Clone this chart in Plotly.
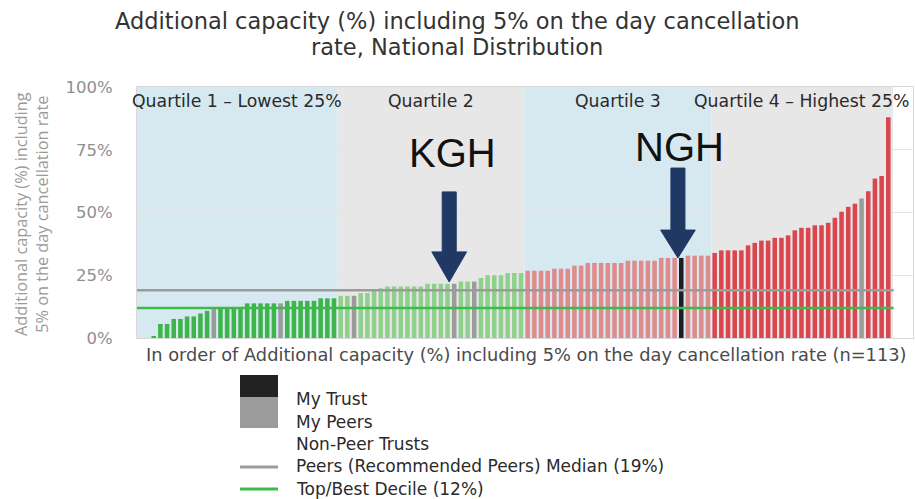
import plotly.graph_objects as go

# ---------------- data ----------------
chart_title_lines = ["Additional capacity (%) including 5% on the day cancellation",
                     "rate, National Distribution"]
x_title = "In order of Additional capacity (%) including 5% on the day cancellation rate (n=113)"
y_title = "Additional capacity (%) including<br>5% on the day cancellation rate"

values = [
    # Quartile 1
    0, 0, 0.8, 5.6, 5.6, 7.6, 7.6, 8.6, 8.6, 9.8, 10.8, 12.1, 12.1, 12.1, 12.1, 12.1,
    13.8, 13.8, 13.8, 13.8, 13.8, 13.8, 14.8, 14.8, 14.8, 14.8, 14.8, 15.8, 15.8, 15.8,
    # Quartile 2
    16.8, 16.8, 16.8, 17.9, 17.9, 18.9, 19.8, 20.5, 20.5, 20.5, 20.5, 20.5, 20.5,
    21.6, 21.6, 21.6, 21.6, 21.6, 22.5, 22.5, 22.5, 23.9, 25.0, 25.0, 25.0, 25.9, 25.9, 25.9,
    # Quartile 3
    26.8, 26.8, 26.8, 26.8, 27.6, 27.6, 27.6, 28.8, 28.8, 29.9, 29.9, 29.9, 29.9, 29.9, 29.9,
    30.8, 30.8, 30.8, 30.8, 30.8, 31.9, 31.9, 31.9, 31.9, 32.8, 32.8, 32.8, 32.8,
    # Quartile 4
    33.9, 34.9, 34.9, 34.9, 34.9, 36.9, 37.9, 38.8, 38.8, 39.9, 39.9, 40.9, 42.9, 43.9, 43.9,
    44.9, 44.9, 45.9, 47.9, 50.3, 52.3, 53.5, 55.6, 58.5, 63.5, 64.5, 87.9,
]
peer_idx = [11, 21, 32, 47, 50, 108]
my_trust_idx = [81]
quartile_sizes = [30, 28, 28, 27]
quartile_labels = ["Quartile 1 – Lowest 25%", "Quartile 2", "Quartile 3", "Quartile 4 – Highest 25%"]
quartile_bar_colors = ["#3db54a", "#8fd08c", "#e08b8b", "#d9464e"]
quartile_bg_colors = ["#d6e9f1", "#e7e7e7", "#d6e9f1", "#e7e7e7"]
peer_median = 19
top_decile = 12
y_tick_vals = [0, 25, 50, 75, 100]
y_tick_text = ["0%", "25%", "50%", "75%", "100%"]
callout_names = ["KGH", "NGH"]
callout_idx = [47, 81]
legend_labels = ["My Trust", "My Peers", "Non-Peer Trusts",
                 "Peers (Recommended Peers) Median (19%)", "Top/Best Decile (12%)"]

# ---------------- layout geometry ----------------
W, H = 915, 499
L, R, T, B = 137, 2, 87, 161
PW, PH = W - L - R, H - T - B
X_RANGE = [-0.5, 115.7]
Y_RANGE = [0, 100]


def px_x(px):
    return (px - L) / PW


def px_y(py):
    return (H - B - py) / PH


n = len(values)
xs = list(range(n))

colors = []
bounds = []
start = 0
for qi, size in enumerate(quartile_sizes):
    bounds.append((start - 0.5, start + size - 0.5))
    for _ in range(size):
        colors.append(quartile_bar_colors[qi])
    start += size
for i in peer_idx:
    colors[i] = "#9b9b9b"
for i in my_trust_idx:
    colors[i] = "#1e1e1e"

fig = go.Figure()
fig.add_trace(go.Bar(x=xs, y=values, marker=dict(color=colors, line=dict(width=0)),
                     hoverinfo="skip", showlegend=False))

shapes = []
annotations = []
FONT = "DejaVu Sans"

# quartile shading
for qi, (a, b) in enumerate(bounds):
    x0 = X_RANGE[0] if qi == 0 else a
    x1 = b + 0.2 if qi == len(bounds) - 1 else b
    shapes.append(dict(type="rect", xref="x", yref="paper", x0=x0, x1=x1, y0=0, y1=1,
                       fillcolor=quartile_bg_colors[qi], line=dict(width=0), layer="between"))
    annotations.append(dict(x=(a + b) / 2, y=px_y(101), xref="x", yref="paper",
                            text=quartile_labels[qi], showarrow=False,
                            font=dict(family=FONT, size=17.3, color="#2a2a2a"),
                            xanchor="center", yanchor="middle"))

# reference lines
end_x = bounds[-1][1] + 0.3
shapes.append(dict(type="line", xref="x", yref="y", x0=X_RANGE[0], x1=end_x,
                   y0=peer_median, y1=peer_median, line=dict(color="#9b9b9b", width=2.5), layer="above"))
shapes.append(dict(type="line", xref="x", yref="y", x0=X_RANGE[0], x1=end_x,
                   y0=top_decile, y1=top_decile, line=dict(color="#3dba4a", width=2.5), layer="above"))

# callout arrows
arrow_geo = [  # (x offset, shaft top, head base, tip) in data units
    (-0.75, 58.2, 34.3, 22.3),
    (-0.5, 67.7, 43.0, 31.9),
]
text_geo = [(-0.2, 73.7), (-0.2, 76.2)]
sw, hw = 1.05, 2.6
for name, idx, (dx, top, base, tip), (tdx, ty) in zip(callout_names, callout_idx, arrow_geo, text_geo):
    c = idx + dx
    path = (f"M {c - sw},{top} L {c + sw},{top} L {c + sw},{base} L {c + hw},{base} "
            f"L {c},{tip} L {c - hw},{base} L {c - sw},{base} Z")
    shapes.append(dict(type="path", xref="x", yref="y", path=path,
                       fillcolor="#1f3864", line=dict(color="#1f3864", width=1), layer="above"))
    annotations.append(dict(x=idx + tdx, y=ty, xref="x", yref="y", text=name, showarrow=False,
                            font=dict(family="Liberation Sans", size=40, color="#111111"),
                            xanchor="center", yanchor="middle"))

# title (two lines)
for line, py in zip(chart_title_lines, [21, 47]):
    annotations.append(dict(x=px_x(457), y=px_y(py), xref="paper", yref="paper", text=line,
                            showarrow=False, font=dict(family=FONT, size=22.5, color="#333333"),
                            xanchor="center", yanchor="middle"))
# axis titles
annotations.append(dict(x=px_x(526), y=px_y(354), xref="paper", yref="paper", text=x_title,
                        showarrow=False, font=dict(family=FONT, size=17.8, color="#4a4a4a"),
                        xanchor="center", yanchor="middle"))
annotations.append(dict(x=px_x(31), y=px_y(214), xref="paper", yref="paper", text=y_title,
                        showarrow=False, textangle=-90,
                        font=dict(family="Open Sans", size=16.3, color="#9a9a9a"),
                        xanchor="center", yanchor="middle"))

# legend (drawn manually)
shapes.append(dict(type="rect", xref="paper", yref="paper", x0=px_x(240), x1=px_x(278),
                   y0=px_y(397), y1=px_y(375), fillcolor="#222222", line=dict(width=0)))
shapes.append(dict(type="rect", xref="paper", yref="paper", x0=px_x(240), x1=px_x(278),
                   y0=px_y(428), y1=px_y(397), fillcolor="#9b9b9b", line=dict(width=0)))
shapes.append(dict(type="line", xref="paper", yref="paper", x0=px_x(240), x1=px_x(278),
                   y0=px_y(467), y1=px_y(467), line=dict(color="#9b9b9b", width=3)))
shapes.append(dict(type="line", xref="paper", yref="paper", x0=px_x(240), x1=px_x(278),
                   y0=px_y(489), y1=px_y(489), line=dict(color="#3dba4a", width=3)))
for lab, py in zip(legend_labels, [399, 422, 444, 466, 489]):
    annotations.append(dict(x=px_x(294), y=px_y(py), xref="paper", yref="paper", text=lab,
                            showarrow=False, font=dict(family=FONT, size=17, color="#2a2a2a"),
                            xanchor="left", yanchor="middle"))

fig.update_layout(
    width=W, height=H,
    margin=dict(l=L, r=R, t=T, b=B, autoexpand=False),
    paper_bgcolor="white", plot_bgcolor="white",
    bargap=0.32,
    shapes=shapes, annotations=annotations,
    showlegend=False,
    xaxis=dict(range=X_RANGE, showticklabels=False, showgrid=False, zeroline=False,
               showline=True, linecolor="#d8d8d8", linewidth=1, mirror=True, ticks=""),
    yaxis=dict(range=Y_RANGE, tickvals=y_tick_vals, ticktext=y_tick_text,
               tickfont=dict(family=FONT, size=16.5, color="#8f8f8f"),
               ticks="outside", ticklen=20, tickcolor="rgba(0,0,0,0)",
               showgrid=True, gridcolor="#e4e4e4", gridwidth=1, zeroline=False,
               showline=True, linecolor="#d8d8d8", linewidth=1, mirror=True),
)

fig.write_html("out.html", config={"displayModeBar": False},
               post_script="document.body.style.margin='0';")
